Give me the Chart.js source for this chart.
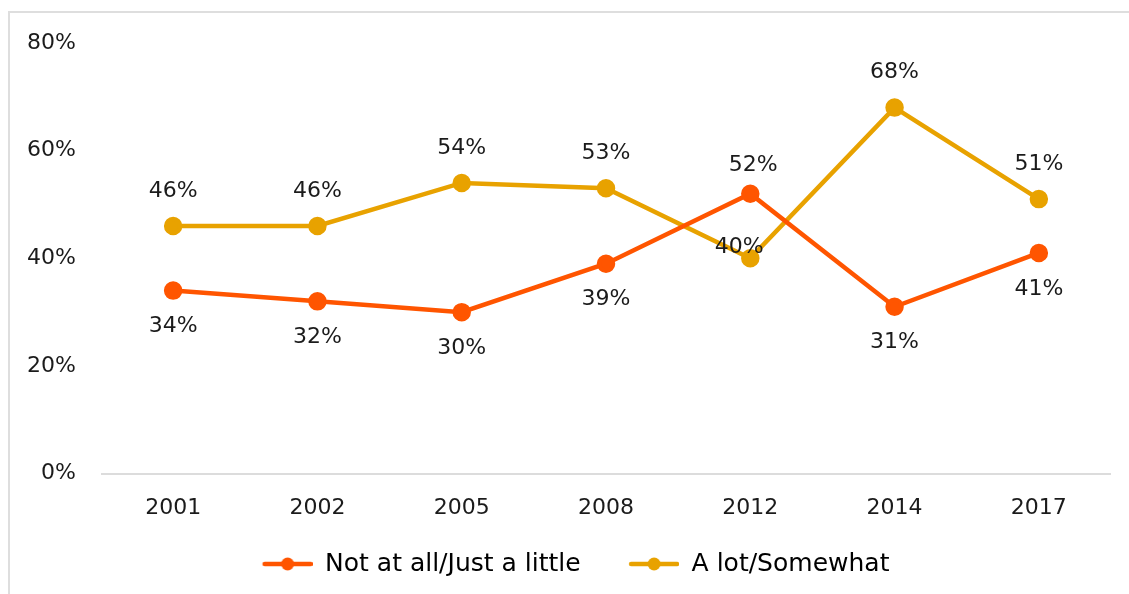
<!DOCTYPE html>
<html>
<head>
<meta charset="utf-8">
<script src="https://cdn.jsdelivr.net/npm/chart.js@4"></script>
<style>
  html, body { margin: 0; padding: 0; background: #fff; }
  #frame {
    position: absolute; left: 8px; top: 11px;
    width: 1121px; height: 583px;
    border-left: 2px solid #dedede; border-top: 2px solid #dedede;
    box-sizing: border-box;
  }
  #chart { display: block; }
</style>
</head>
<body>
<div id="frame"><canvas id="chart" width="1119" height="581"></canvas></div>
<script>
// survey years and shares (%)
const years = ['2001', '2002', '2005', '2008', '2012', '2014', '2017'];
const notAtAll = [34, 32, 30, 39, 52, 31, 41];
const aLot = [46, 46, 54, 53, 40, 68, 51];
const yTicks = [0, 20, 40, 60, 80];

const ORANGE = '#FF5500';
const GOLD = '#E8A200';
const FONT = '"DejaVu Sans", sans-serif';
const INK = '#1b1b1b';

// legend marker: short line with a dot, with some empty space on the left
// so the gap between legend items is wider than the label padding
function legendMarker(color) {
  const c = document.createElement('canvas');
  c.width = 81; c.height = 16;
  const g = c.getContext('2d');
  g.strokeStyle = color; g.lineWidth = 4.5; g.lineCap = 'round';
  g.beginPath(); g.moveTo(33, 8); g.lineTo(79, 8); g.stroke();
  g.fillStyle = color;
  g.beginPath(); g.arc(56, 8, 6.5, 0, Math.PI * 2); g.fill();
  return c;
}

// value labels next to each point; labelPos gives [dx, dy] per point
const valueLabels = {
  id: 'valueLabels',
  afterDatasetsDraw(chart) {
    const ctx = chart.ctx;
    ctx.save();
    ctx.font = '22px ' + FONT;
    ctx.fillStyle = INK;
    ctx.textAlign = 'center';
    ctx.textBaseline = 'middle';
    chart.data.datasets.forEach((ds, i) => {
      chart.getDatasetMeta(i).data.forEach((pt, j) => {
        const [dx, dy] = ds.labelPos(j);
        ctx.fillText(ds.data[j] + '%', pt.x + dx, pt.y + dy);
      });
    });
    ctx.restore();
  }
};

new Chart(document.getElementById('chart'), {
  type: 'line',
  data: {
    labels: years,
    datasets: [
      {
        label: 'Not at all/Just a little',
        data: notAtAll,
        borderColor: ORANGE,
        backgroundColor: ORANGE,
        borderWidth: 4.5,
        pointRadius: 7,
        pointStyle: 'circle',
        legendImg: legendMarker(ORANGE),
        labelPos: j => j === 4 ? [3, -28] : [0, 36]
      },
      {
        label: 'A lot/Somewhat',
        data: aLot,
        borderColor: GOLD,
        backgroundColor: GOLD,
        borderWidth: 4.5,
        pointRadius: 7,
        pointStyle: 'circle',
        legendImg: legendMarker(GOLD),
        labelPos: j => j === 4 ? [-11, -11] : [0, -35]
      }
    ]
  },
  options: {
    responsive: false,
    animation: false,
    layout: { padding: { top: 30, right: 18, bottom: 7.5, left: 0 } },
    scales: {
      x: {
        offset: true,
        grid: { display: false },
        border: { display: false },
        ticks: { color: INK, font: { family: FONT, size: 22 }, padding: 13 }
      },
      y: {
        min: 0,
        max: 80,
        afterBuildTicks: s => { s.ticks = yTicks.map(v => ({ value: v })); },
        // fixed axis width; the tick padding should not push the plot down
        afterFit: s => { s.width = 91; s.paddingTop = 13; s.paddingBottom = 0; },
        grid: {
          drawTicks: false,
          lineWidth: 2,
          color: c => c.tick && c.tick.value === 0 ? '#dcdcdc' : 'rgba(0,0,0,0)'
        },
        border: { display: false },
        ticks: {
          color: INK,
          font: { family: FONT, size: 22 },
          padding: 25,
          callback: v => v + '%'
        }
      }
    },
    plugins: {
      tooltip: { enabled: false },
      legend: {
        position: 'bottom',
        labels: {
          usePointStyle: true,
          pointStyleWidth: 81,
          padding: 17.5,
          color: INK,
          font: { family: FONT, size: 25 },
          generateLabels: chart => chart.data.datasets.map((ds, i) => ({
            text: ds.label,
            pointStyle: ds.legendImg,
            fillStyle: ds.borderColor,
            strokeStyle: ds.borderColor,
            lineWidth: 0,
            datasetIndex: i
          }))
        }
      }
    }
  },
  plugins: [valueLabels]
});
</script>
</body>
</html>
